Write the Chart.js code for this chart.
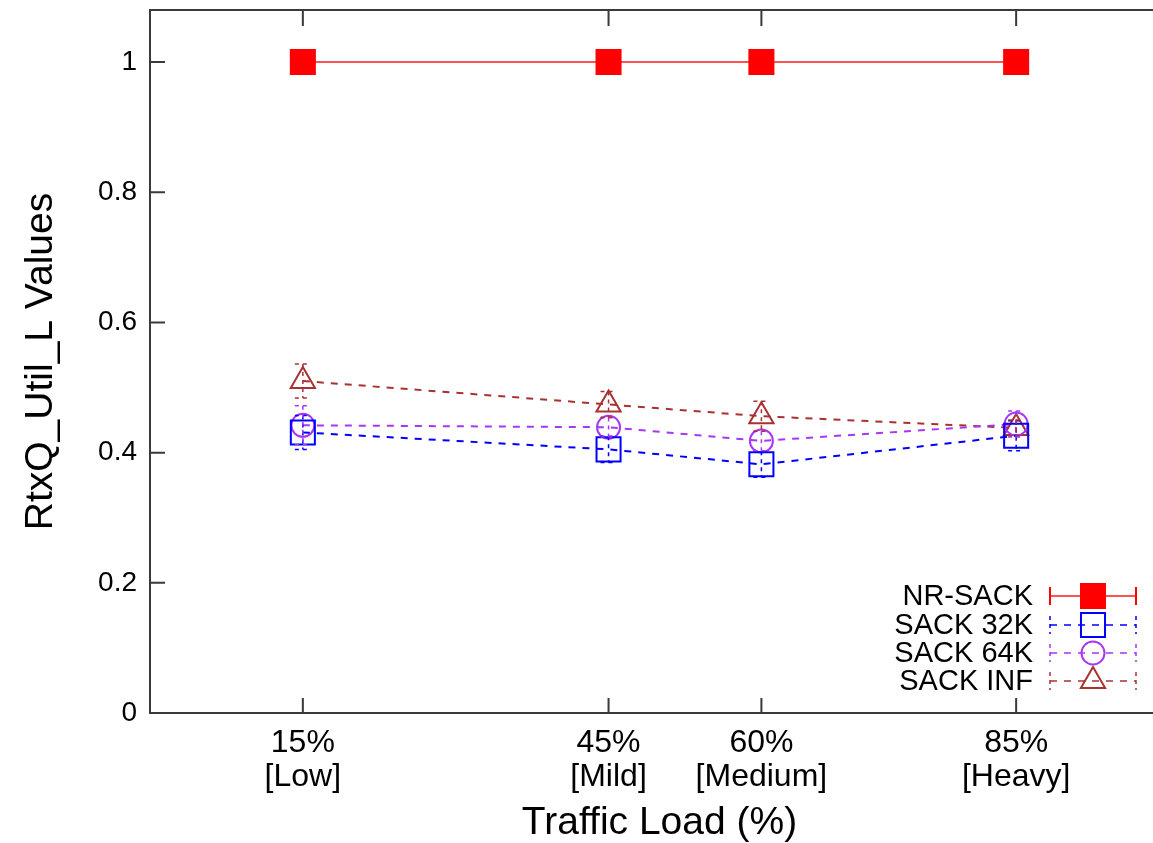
<!DOCTYPE html>
<html>
<head>
<meta charset="utf-8">
<script src="https://cdn.jsdelivr.net/npm/chart.js@4.4.1/dist/chart.umd.min.js"></script>
<style>
  html, body { margin: 0; padding: 0; background: #fff; overflow: hidden; }
  #wrap { width: 1175px; height: 843px; }
</style>
</head>
<body>
<div id="wrap"><canvas id="chart" width="1175" height="843"></canvas></div>
<script>
// x positions (traffic load %) and their two-line labels
const loads = [15, 45, 60, 85];
const loadLabels = [['15%', '[Low]'], ['45%', '[Mild]'], ['60%', '[Medium]'], ['85%', '[Heavy]']];
const yTicks = [0, 0.2, 0.4, 0.6, 0.8, 1];

const seriesNames = ['NR-SACK', 'SACK 32K', 'SACK 64K', 'SACK INF'];
const nrSack  = [1, 1, 1, 1];
const sack32  = [0.431, 0.405, 0.382, 0.426];
const sack64  = [0.442, 0.439, 0.418, 0.444];
const sackInf = [0.510, 0.474, 0.456, 0.438];

// half-widths of the error bars
const nrSackErr  = [0, 0, 0, 0];
const sack32Err  = [0.026, 0.02, 0.02, 0.023];
const sack64Err  = [0.03, 0.015, 0.015, 0.02];
const sackInfErr = [0.026, 0.02, 0.023, 0.012];

const FONT = "'Liberation Sans', Arial, Helvetica, sans-serif";
const AXIS = '#3a3a3a';

function pts(vals) { return loads.map((x, i) => ({ x, y: vals[i] })); }

function series(label, vals, err, color, style, radius, filled, dash, lineColor) {
  return {
    label, data: pts(vals), err,
    borderColor: lineColor || color, borderWidth: 2, borderDash: dash,
    pointStyle: style, pointRadius: radius, pointHoverRadius: radius,
    pointBorderColor: color, pointBackgroundColor: filled ? color : 'transparent',
    pointBorderWidth: 2, tension: 0, fill: false
  };
}

const datasets = [
  series(seriesNames[0], nrSack, nrSackErr, '#ff0000', 'rect', 17, true, [], 'rgba(255,40,40,0.8)'),
  series(seriesNames[1], sack32, sack32Err, '#0000ff', 'rect', 17, false, [7, 7]),
  series(seriesNames[2], sack64, sack64Err, '#a836f5', 'circle', 11.5, false, [7, 7]),
  series(seriesNames[3], sackInf, sackInfErr, '#a83232', 'triangle', 14, false, [7, 7]),
];

// kill the automatic edge padding Chart.js reserves for tick labels
function noPad(s) { s.paddingTop = 0; s.paddingBottom = 0; s.paddingLeft = 0; s.paddingRight = 0; }

const gnuplotBits = {
  id: 'gnuplotBits',
  afterDatasetsDraw(chart) {
    const { ctx, scales: { x, y } } = chart;
    ctx.save();
    chart.data.datasets.forEach(ds => {
      ctx.strokeStyle = ds.pointBorderColor;
      ctx.lineWidth = 1.5;
      ctx.setLineDash([4, 4]);
      ds.data.forEach((p, i) => {
        const e = ds.err[i];
        if (!e) return;
        const px = x.getPixelForValue(p.x);
        const top = y.getPixelForValue(p.y + e), bot = y.getPixelForValue(p.y - e);
        ctx.beginPath();
        ctx.moveTo(px, top); ctx.lineTo(px, bot);
        ctx.moveTo(px - 8, top); ctx.lineTo(px + 8, top);
        ctx.moveTo(px - 8, bot); ctx.lineTo(px + 8, bot);
        ctx.stroke();
      });
    });
    ctx.restore();
  },
  afterDraw(chart) {
    const { ctx, chartArea: a, scales: { x, y } } = chart;
    ctx.save();
    // frame and inward ticks
    ctx.strokeStyle = AXIS;
    ctx.lineWidth = 2;
    ctx.setLineDash([]);
    ctx.strokeRect(a.left, a.top, a.right - a.left, a.bottom - a.top);
    ctx.beginPath();
    yTicks.forEach(v => {
      const py = y.getPixelForValue(v);
      ctx.moveTo(a.left, py); ctx.lineTo(a.left + 15, py);
    });
    loads.forEach(v => {
      const px = x.getPixelForValue(v);
      ctx.moveTo(px, a.bottom); ctx.lineTo(px, a.bottom - 15);
      ctx.moveTo(px, a.top); ctx.lineTo(px, a.top + 16);
    });
    ctx.stroke();

    // key
    const rows = [596, 625, 653, 681];
    const x0 = 1050, x1 = 1136, mx = 1093;
    chart.data.datasets.forEach((ds, i) => {
      const ry = rows[i];
      ctx.fillStyle = '#000';
      ctx.font = '29px ' + FONT;
      ctx.textAlign = 'right';
      ctx.textBaseline = 'middle';
      ctx.fillText(ds.label, 1033, ry + 1);
      ctx.strokeStyle = ds.borderColor;
      ctx.lineWidth = i === 0 ? 2 : 1.5;
      ctx.setLineDash(ds.borderDash);
      ctx.beginPath();
      ctx.moveTo(x0, ry); ctx.lineTo(x1, ry);
      ctx.stroke();
      ctx.strokeStyle = ds.pointBorderColor;
      ctx.setLineDash(i === 0 ? [] : [4, 4]);
      ctx.beginPath();
      ctx.moveTo(x0, ry - 9); ctx.lineTo(x0, ry + 9);
      ctx.moveTo(x1, ry - 9); ctx.lineTo(x1, ry + 9);
      ctx.stroke();
      ctx.setLineDash([]);
      ctx.fillStyle = ds.pointBackgroundColor;
      ctx.lineWidth = 2;
      Chart.helpers.drawPoint(ctx, { pointStyle: ds.pointStyle, radius: ds.pointRadius, rotation: 0, borderWidth: 2 }, mx, ry);
    });
    ctx.restore();
  }
};

new Chart(document.getElementById('chart').getContext('2d'), {
  type: 'line',
  data: { datasets },
  options: {
    responsive: false,
    animation: false,
    devicePixelRatio: 1,
    layout: { autoPadding: false, padding: { top: 10, right: 6, left: 0, bottom: 0 } },
    plugins: { legend: { display: false }, tooltip: { enabled: false } },
    scales: {
      x: {
        type: 'linear', min: 0, max: 100,
        grid: { display: false, drawTicks: false }, border: { display: false },
        afterBuildTicks: s => { s.ticks = loads.map(v => ({ value: v })); },
        afterFit: s => { s.height = 130; noPad(s); },
        ticks: {
          color: '#000', padding: 13, maxRotation: 0, autoSkip: false,
          font: { family: FONT, size: 32, lineHeight: 1.06 },
          callback: v => loadLabels[loads.indexOf(v)]
        },
        title: { display: true, text: 'Traffic Load (%)', color: '#000', padding: 0, font: { family: FONT, size: 39, lineHeight: 1.0 } }
      },
      y: {
        min: 0, max: 1.08,
        grid: { display: false, drawTicks: false }, border: { display: false },
        afterBuildTicks: s => { s.ticks = yTicks.map(v => ({ value: v })); },
        afterFit: s => { s.width = 150; noPad(s); },
        ticks: {
          color: '#000', padding: 13,
          font: { family: FONT, size: 28 },
          callback: v => (v === 0 || v === 1) ? String(v) : v.toFixed(1)
        },
        title: { display: true, text: 'RtxQ_Util_L Values', color: '#000', padding: { top: 22, bottom: 0 }, font: { family: FONT, size: 39, lineHeight: 1.0 } }
      }
    }
  },
  plugins: [gnuplotBits]
});
</script>
</body>
</html>
